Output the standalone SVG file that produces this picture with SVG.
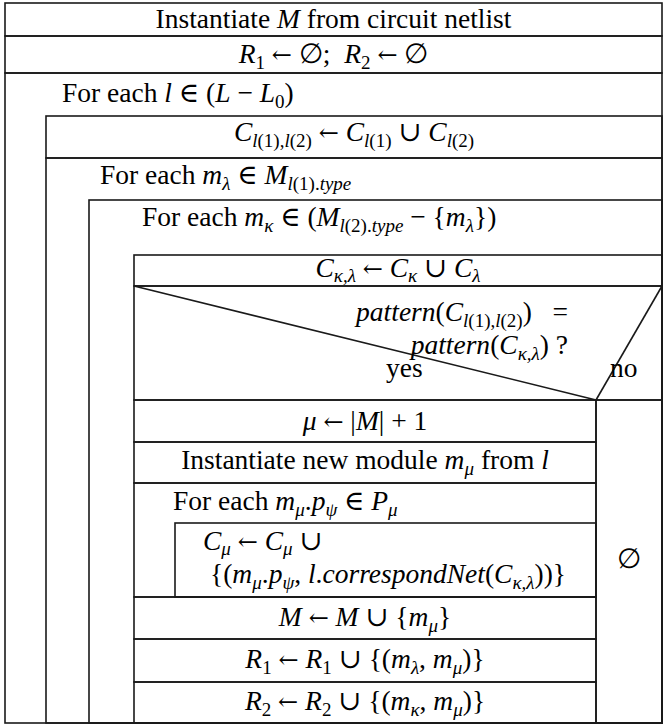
<svg xmlns="http://www.w3.org/2000/svg" width="666" height="725" viewBox="0 0 666 725">
<style>
.b{fill:none;stroke:#1a1a1a;stroke-width:1.6}
.t{font-family:"Liberation Serif","DejaVu Serif",serif;font-size:27.5px;fill:#000}
.c{text-anchor:middle}
.e{text-anchor:end}
.i{font-style:italic}
.s{font-size:19px}
.a{font-family:"DejaVu Serif",serif;font-size:24px}
</style>
<rect width="666" height="725" fill="#fff"/>
<g id="n-instantiate">
<rect class="b" x="5" y="3" width="657" height="33"/>
<text class="t c" x="333.5" y="28">Instantiate <tspan class="i">M</tspan> from circuit netlist</text>
</g>
<g id="n-init">
<rect class="b" x="5" y="36" width="657" height="37"/>
<text class="t c" x="333.5" y="63"><tspan class="i">R</tspan><tspan class="s" dy="6">1</tspan><tspan dy="-6"> </tspan><tspan class="a">←</tspan> ∅;&#160; <tspan class="i">R</tspan><tspan class="s" dy="6">2</tspan><tspan dy="-6"> </tspan><tspan class="a">←</tspan> ∅</text>
</g>
<g id="loop-l">
<rect class="b" x="5" y="73" width="657" height="650"/>
<text class="t" x="62" y="102">For each <tspan class="i">l</tspan> ∈ (<tspan class="i">L</tspan> − <tspan class="i">L</tspan><tspan class="s" dy="6">0</tspan><tspan dy="-6">)</tspan></text>
</g>
<g id="n-cl">
<rect class="b" x="46" y="116" width="616" height="42"/>
<text class="t c" x="354" y="141"><tspan class="i">C</tspan><tspan class="s" dy="6"><tspan class="i">l</tspan>(1),<tspan class="i">l</tspan>(2)</tspan><tspan dy="-6"> </tspan><tspan class="a">←</tspan> <tspan class="i">C</tspan><tspan class="s" dy="6"><tspan class="i">l</tspan>(1)</tspan><tspan dy="-6"> ∪ </tspan><tspan class="i">C</tspan><tspan class="s" dy="6"><tspan class="i">l</tspan>(2)</tspan></text>
</g>
<g id="loop-mlambda">
<rect class="b" x="46" y="158" width="616" height="565"/>
<text class="t" x="100" y="184">For each <tspan class="i">m</tspan><tspan class="s i" dy="6">λ</tspan><tspan dy="-6"> ∈ </tspan><tspan class="i">M</tspan><tspan class="s" dy="6"><tspan class="i">l</tspan>(1).<tspan class="i">type</tspan></tspan></text>
</g>
<g id="loop-mkappa">
<rect class="b" x="89" y="200" width="573" height="523"/>
<text class="t" x="142" y="226">For each <tspan class="i">m</tspan><tspan class="s i" dy="6">κ</tspan><tspan dy="-6"> ∈ (</tspan><tspan class="i">M</tspan><tspan class="s" dy="6"><tspan class="i">l</tspan>(2).<tspan class="i">type</tspan></tspan><tspan dy="-6"> − {</tspan><tspan class="i">m</tspan><tspan class="s i" dy="6">λ</tspan><tspan dy="-6">})</tspan></text>
</g>
<g id="n-ckl">
<rect class="b" x="134" y="255" width="528" height="31"/>
<text class="t c" x="398" y="277"><tspan class="i">C</tspan><tspan class="s i" dy="5">κ,λ</tspan><tspan dy="-5"> </tspan><tspan class="a">←</tspan> <tspan class="i">C</tspan><tspan class="s i" dy="5">κ</tspan><tspan dy="-5"> ∪ </tspan><tspan class="i">C</tspan><tspan class="s i" dy="5">λ</tspan></text>
</g>
<g id="decision">
<rect class="b" x="134" y="286" width="528" height="114"/>
<line class="b" x1="134" y1="286" x2="596" y2="400"/>
<line class="b" x1="596" y1="400" x2="662" y2="286"/>
<text class="t e" x="568" y="321"><tspan class="i">pattern</tspan>(<tspan class="i">C</tspan><tspan class="s" dy="6"><tspan class="i">l</tspan>(1),<tspan class="i">l</tspan>(2)</tspan><tspan dy="-6">)&#160;&#160;&#160;=</tspan></text>
<text class="t e" x="568" y="354"><tspan class="i">pattern</tspan>(<tspan class="i">C</tspan><tspan class="s i" dy="6">κ,λ</tspan><tspan dy="-6">)&#160;?</tspan></text>
<text class="t" x="386" y="377">yes</text>
<text class="t" x="610" y="377">no</text>
</g>
<g id="n-mu">
<rect class="b" x="134" y="400" width="462" height="42"/>
<text class="t c" x="365" y="430"><tspan class="i">μ</tspan> <tspan class="a">←</tspan> |<tspan class="i">M</tspan>| + 1</text>
</g>
<g id="n-newmodule">
<rect class="b" x="134" y="442" width="462" height="41"/>
<text class="t c" x="365" y="469">Instantiate new module <tspan class="i">m</tspan><tspan class="s i" dy="6">μ</tspan><tspan dy="-6"> from </tspan><tspan class="i">l</tspan></text>
</g>
<g id="loop-ports">
<rect class="b" x="134" y="483" width="462" height="114"/>
<text class="t" x="173" y="510">For each <tspan class="i">m</tspan><tspan class="s i" dy="6">μ</tspan><tspan dy="-6">.</tspan><tspan class="i">p</tspan><tspan class="s i" dy="6">ψ</tspan><tspan dy="-6"> ∈ </tspan><tspan class="i">P</tspan><tspan class="s i" dy="6">μ</tspan></text>
</g>
<g id="n-cmu">
<rect class="b" x="175" y="523" width="421" height="74"/>
<text class="t" x="203" y="550"><tspan class="i">C</tspan><tspan class="s i" dy="5">μ</tspan><tspan dy="-5"> </tspan><tspan class="a">←</tspan> <tspan class="i">C</tspan><tspan class="s i" dy="5">μ</tspan><tspan dy="-5"> ∪</tspan></text>
<text class="t" x="210" y="583">{(<tspan class="i">m</tspan><tspan class="s i" dy="6">μ</tspan><tspan dy="-6">.</tspan><tspan class="i">p</tspan><tspan class="s i" dy="6">ψ</tspan><tspan dy="-6">, </tspan><tspan class="i">l</tspan>.<tspan class="i">correspondNet</tspan>(<tspan class="i">C</tspan><tspan class="s i" dy="6">κ,λ</tspan><tspan dy="-6">))}</tspan></text>
</g>
<g id="n-addm">
<rect class="b" x="134" y="597" width="462" height="42"/>
<text class="t c" x="365" y="626"><tspan class="i">M</tspan> <tspan class="a">←</tspan> <tspan class="i">M</tspan> ∪ {<tspan class="i">m</tspan><tspan class="s i" dy="6">μ</tspan><tspan dy="-6">}</tspan></text>
</g>
<g id="n-r1">
<rect class="b" x="134" y="639" width="462" height="43"/>
<text class="t c" x="365" y="668"><tspan class="i">R</tspan><tspan class="s" dy="6">1</tspan><tspan dy="-6"> </tspan><tspan class="a">←</tspan> <tspan class="i">R</tspan><tspan class="s" dy="6">1</tspan><tspan dy="-6"> ∪ {(</tspan><tspan class="i">m</tspan><tspan class="s i" dy="6">λ</tspan><tspan dy="-6">, </tspan><tspan class="i">m</tspan><tspan class="s i" dy="6">μ</tspan><tspan dy="-6">)}</tspan></text>
</g>
<g id="n-r2">
<rect class="b" x="134" y="682" width="462" height="41"/>
<text class="t c" x="365" y="710"><tspan class="i">R</tspan><tspan class="s" dy="6">2</tspan><tspan dy="-6"> </tspan><tspan class="a">←</tspan> <tspan class="i">R</tspan><tspan class="s" dy="6">2</tspan><tspan dy="-6"> ∪ {(</tspan><tspan class="i">m</tspan><tspan class="s i" dy="6">κ</tspan><tspan dy="-6">, </tspan><tspan class="i">m</tspan><tspan class="s i" dy="6">μ</tspan><tspan dy="-6">)}</tspan></text>
</g>
<g id="n-no">
<rect class="b" x="596" y="400" width="66" height="323"/>
<text class="t c" x="629" y="568">∅</text>
</g>
</svg>
